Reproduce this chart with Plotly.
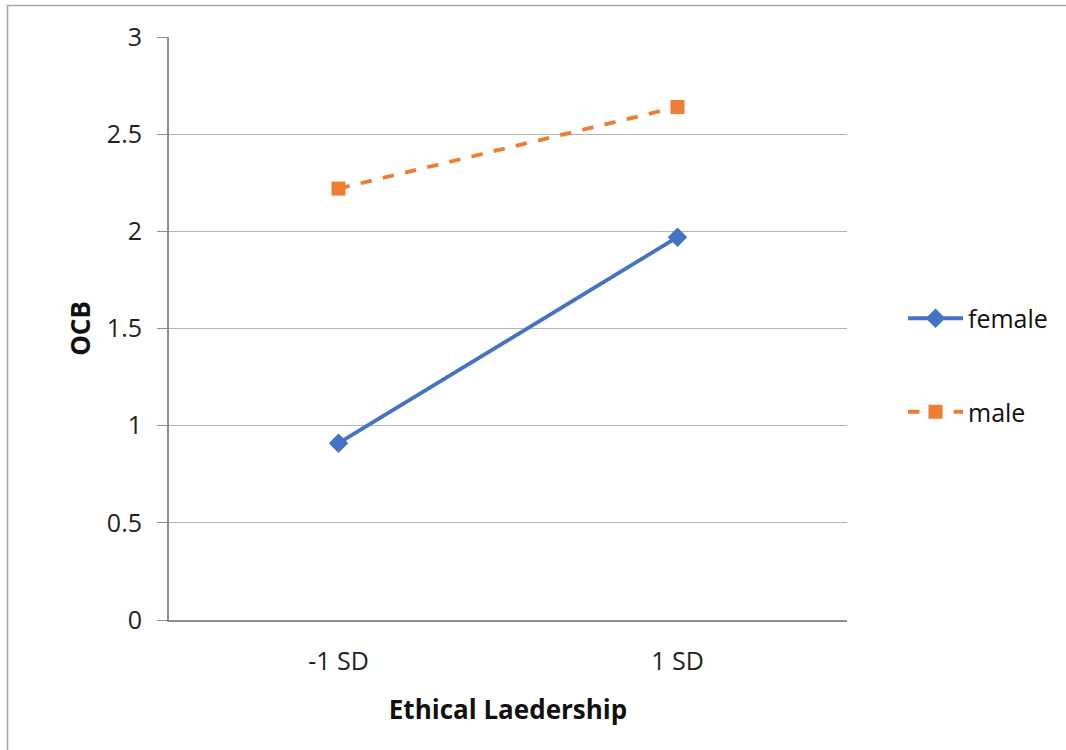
import plotly.graph_objects as go

categories = ["-1 SD", "1 SD"]
female = [0.91, 1.97]
male = [2.22, 2.64]
y_ticks = [0, 0.5, 1, 1.5, 2, 2.5, 3]
y_tick_text = ["0", "0.5", "1", "1.5", "2", "2.5", "3"]

FONT = "Open Sans"
BLUE = "#4472C4"
ORANGE = "#ED7D31"

fig = go.Figure()
fig.add_trace(go.Scatter(
    x=categories, y=female, name="female", mode="lines+markers",
    line=dict(color=BLUE, width=3.8),
    marker=dict(symbol="diamond", size=15, color=BLUE),
    legendgroup="f",
))
fig.add_trace(go.Scatter(
    x=categories, y=male, name="male", mode="lines+markers",
    line=dict(color=ORANGE, width=3.8, dash="dash"),
    marker=dict(symbol="square", size=14, color=ORANGE),
    legendgroup="m",
))

L, R, T, B = 169, 219, 37, 130
W, H = 1066, 750
pw, ph = W - L - R, H - T - B

def px_x(p):
    return (p - L) / pw

def px_y(p):
    return (H - B - p) / ph

fig.update_layout(
    width=W, height=H,
    margin=dict(l=L, r=R, t=T, b=B),
    paper_bgcolor="white", plot_bgcolor="white",
    font=dict(family=FONT, size=25, color="#222222"),
    showlegend=True,
    legend=dict(
        x=px_x(903), y=px_y(365), xanchor="left", yanchor="middle",
        font=dict(family=FONT, size=25, color="#111111"),
        itemwidth=55, tracegroupgap=58, bgcolor="rgba(0,0,0,0)",
    ),
    xaxis=dict(
        type="category", range=[-0.5, 1.5],
        showgrid=False, showline=True, linecolor="#8c8c8c", linewidth=2,
        ticks="", tickfont=dict(size=25, color="#222222"),
        ticklabelstandoff=18,
        title=dict(text="<b>Ethical Laedership</b>", font=dict(size=26, color="#111111"), standoff=25),
        zeroline=False,
    ),
    yaxis=dict(
        range=[0, 3], tickvals=y_ticks, ticktext=y_tick_text,
        showgrid=True, gridcolor="#b3b3b3", gridwidth=1,
        showline=True, linecolor="#8c8c8c", linewidth=2,
        ticks="outside", ticklen=10, tickcolor="#8c8c8c", tickwidth=1,
        tickfont=dict(size=25, color="#222222"),
        ticklabelstandoff=10,
        title=dict(text="<b>OCB</b>", font=dict(size=26, color="#111111"), standoff=9),
        zeroline=False,
    ),
    shapes=[dict(
        type="rect", xref="paper", yref="paper",
        x0=px_x(7.5), x1=px_x(1075), y0=px_y(760), y1=px_y(5.5),
        line=dict(color="#a6a6a6", width=1.5), fillcolor="rgba(0,0,0,0)", layer="below",
    )],
)

fig.write_html("out.html")
